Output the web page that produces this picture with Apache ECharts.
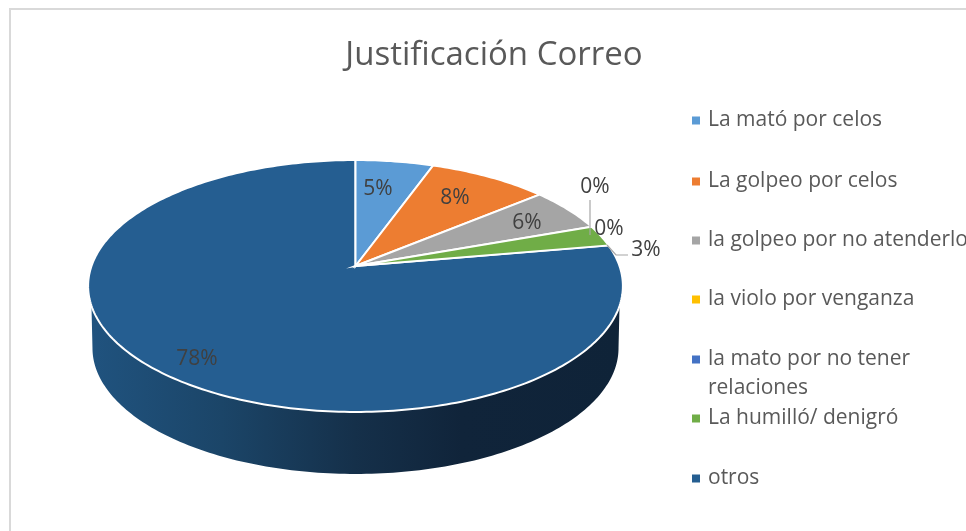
<!DOCTYPE html>
<html>
<head>
<meta charset="utf-8">
<title>Justificación Correo</title>
<style>
  html, body { margin: 0; padding: 0; background: #fff; }
  #chart { width: 966px; height: 531px; }
</style>
<script src="https://cdn.jsdelivr.net/npm/echarts@6/dist/echarts.min.js"></script>
</head>
<body>
<div id="chart"></div>
<script>
var categories = ['La mató por celos', 'La golpeo por celos', 'la golpeo por no atenderlo', 'la violo por venganza', 'la mato por no tener\nrelaciones', 'La humilló/ denigró', 'otros'];
var percents = [5.49, 8.45, 5.6, 0, 0, 2.7, 77.76];
var colors = ['#5b9bd5', '#ed7d31', '#a5a5a5', '#ffc000', '#4472c4', '#70ad47', '#255e91'];

var FONT = '"Open Sans", "Noto Sans", sans-serif';

// el pie va inclinado con perspectiva: el centro no cae en el centro de la elipse
var pieX = 355.5, pieY = 266, pieA = 264, pieB = 122.8, pieK = 0.1587;
var wallDepth = 62, wallA = 259.7;
var wallFrom = 108, wallTo = 252;
var wallBottomFrom = 99, wallBottomTo = 261;

// sitio de cada etiqueta, a mano como en el original
var labelPos = [[378, 189], [455, 198], [527, 223], [595, 187], [609, 229], [646, 250], [197, 359]];
var legendTop = [106, 167, 226, 285, 345, 404, 464];

function rim(deg, a, dy) {
    var t = deg * Math.PI / 180;
    var u = Math.sin(t), v = -Math.cos(t);
    var w = 1 - pieK * v;
    return [pieX + a * u / w, pieY + dy + pieB * v / w];
}

function arc(from, to, a, dy) {
    var pts = [];
    var n = Math.max(2, Math.ceil(Math.abs(to - from)));
    for (var i = 0; i <= n; i++) {
        pts.push(rim(from + (to - from) * i / n, a, dy));
    }
    return pts;
}

function renderSlice(idx) {
    return function (params, api) {
        var start = api.value(0) * 3.6, end = api.value(1) * 3.6;
        var children = [];
        if (idx === categories.length - 1) {
            children.push({
                type: 'polygon',
                shape: { points: arc(wallFrom, wallTo, pieA, 0).concat(arc(wallBottomTo, wallBottomFrom, wallA, wallDepth)) },
                style: {
                    fill: new echarts.graphic.LinearGradient(88, 0, 622, 0, [
                        { offset: 0, color: '#20537f' },
                        { offset: 0.25, color: '#1b4568' },
                        { offset: 0.5, color: '#15304a' },
                        { offset: 0.7, color: '#10243a' },
                        { offset: 1, color: '#0f2338' }
                    ], true)
                }
            });
        }
        if (end > start) {
            children.push({
                type: 'polygon',
                shape: { points: [[pieX, pieY]].concat(arc(start, end, pieA, 0)) },
                style: { fill: api.visual('color'), stroke: '#fff', lineWidth: 2 }
            });
        }
        if (idx === 3) {
            children.push({
                type: 'polyline', z2: 5,
                shape: { points: [[590, 200], [590, 235]] },
                style: { fill: 'none', stroke: '#a6a6a6', lineWidth: 1.2 }
            });
        }
        if (idx === 5) {
            children.push({
                type: 'polyline', z2: 5,
                shape: { points: [[607, 245], [616, 255], [628, 255]] },
                style: { fill: 'none', stroke: '#a6a6a6', lineWidth: 1.2 }
            });
        }
        children.push({
            type: 'text', z2: 10,
            style: {
                x: labelPos[idx][0], y: labelPos[idx][1],
                text: Math.round(api.value(2)) + '%',
                font: '21px ' + FONT, fill: '#404040',
                align: 'center', verticalAlign: 'middle'
            }
        });
        return { type: 'group', children: children };
    };
}

var myChart = echarts.init(document.getElementById('chart'));
var acum = 0;
var series = categories.map(function (name, i) {
    var s = {
        name: name,
        type: 'custom',
        coordinateSystem: 'none',
        z: i === categories.length - 1 ? 1 : 2,
        renderItem: renderSlice(i),
        data: [[acum, acum + percents[i], percents[i]]]
    };
    acum += percents[i];
    return s;
});

var legends = categories.map(function (name, i) {
    var twoLines = name.indexOf('\n') >= 0;
    return {
        data: [name],
        left: 692,
        top: legendTop[i],
        padding: 0,
        itemWidth: 8,
        itemHeight: twoLines ? 37 : 8,
        // el cuadrito va arriba, a la altura de la primera linea
        icon: twoLines ? 'path://M0,0H8V8H0Z M8,37L8,37Z' : 'rect',
        selectedMode: false,
        textStyle: { fontFamily: FONT, fontSize: 21, color: '#595959', lineHeight: 29, padding: [0, 0, 0, 3] }
    };
});

var option = {
    animation: false,
    color: colors,
    tooltip: { show: false },
    title: {
        text: 'Justificación Correo',
        left: 489,
        top: 34,
        textAlign: 'center',
        textStyle: { fontFamily: FONT, fontSize: 33, fontWeight: 'normal', color: '#595959' }
    },
    legend: legends,
    graphic: [{
        type: 'rect',
        silent: true,
        shape: { x: 10, y: 9, width: 1100, height: 700 },
        style: { fill: 'none', stroke: '#d9d9d9', lineWidth: 2 }
    }],
    series: series
};
myChart.setOption(option);
</script>
</body>
</html>
